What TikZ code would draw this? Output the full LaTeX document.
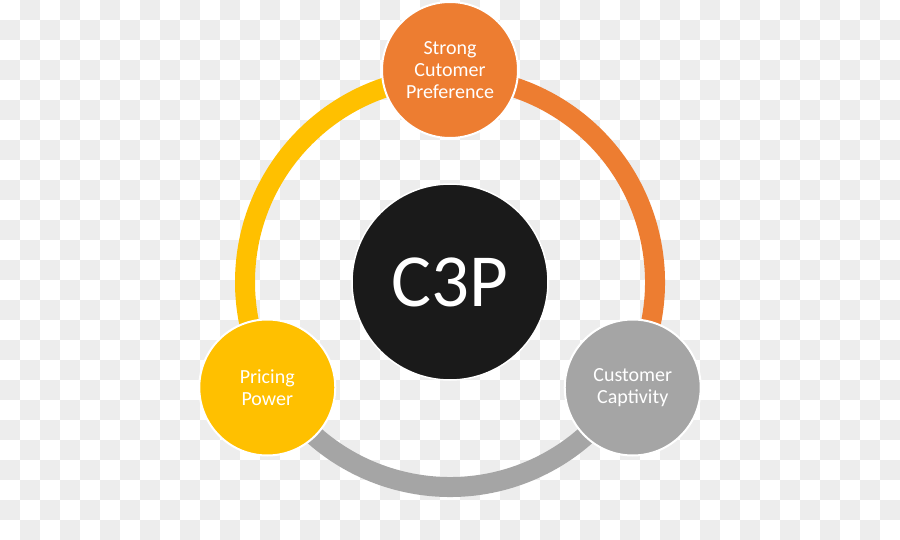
\documentclass[tikz,border=0pt]{standalone}
\usepackage{fontspec}
\setmainfont{Carlito}
\usepackage{xcolor}
\usepackage{tikz}
\usetikzlibrary{calc}
\definecolor{preforange}{HTML}{ED7D31}
\definecolor{priceyellow}{HTML}{FFC000}
\definecolor{captgray}{HTML}{A5A5A5}
\definecolor{coreblack}{HTML}{1A1A1A}
\definecolor{checkgray}{HTML}{EDEDED}

\begin{document}
\begin{tikzpicture}[
  x=1pt, y=1pt,
  disc/.style={circle, draw=white, line width=2pt, minimum size=136pt, inner sep=0pt, align=center, text=white, font=\fontsize{20}{22}\selectfont},
  pref/.style={disc, fill=preforange},
  price/.style={disc, fill=priceyellow},
  capt/.style={disc, fill=captgray},
  core/.style={circle, draw=white, line width=1.5pt, fill=coreblack, minimum size=196pt, inner sep=0pt, text=white, font=\fontsize{75}{80}\selectfont},
  ringarc/.style={line width=20pt}]
% transparency checkerboard
\fill[white] (0,0) rectangle (900,-540);
\foreach \j in {0,...,26} {
  \pgfmathtruncatemacro\first{mod(\j+1,2)}
  \pgfmathtruncatemacro\second{\first+2}
  \foreach \i in {\first,\second,...,44}
    \fill[checkgray] (20*\i,-20*\j) rectangle ++(20,-20);
}
\useasboundingbox (0,0) rectangle (900,-540);
% core
\node[core] (c3p) at (450,-282) {C3P};
% ring
\draw[ringarc, priceyellow] ($(c3p)+(90:205)$) arc[start angle=90, end angle=210, radius=205];
\draw[ringarc, captgray] ($(c3p)+(210:205)$) arc[start angle=210, end angle=330, radius=205];
\draw[ringarc, preforange] ($(c3p)+(-30:205)$) arc[start angle=-30, end angle=90, radius=205];
% outer discs
\node[pref] (pref) at ($(c3p)+(90:212)$) {Strong\\Cutomer\\Preference};
\node[price] (price) at ($(c3p)+(210:211)$) {Pricing\\Power};
\node[capt] (capt) at ($(c3p)+(330:211)$) {Customer\\Captivity};
\end{tikzpicture}
\end{document}
